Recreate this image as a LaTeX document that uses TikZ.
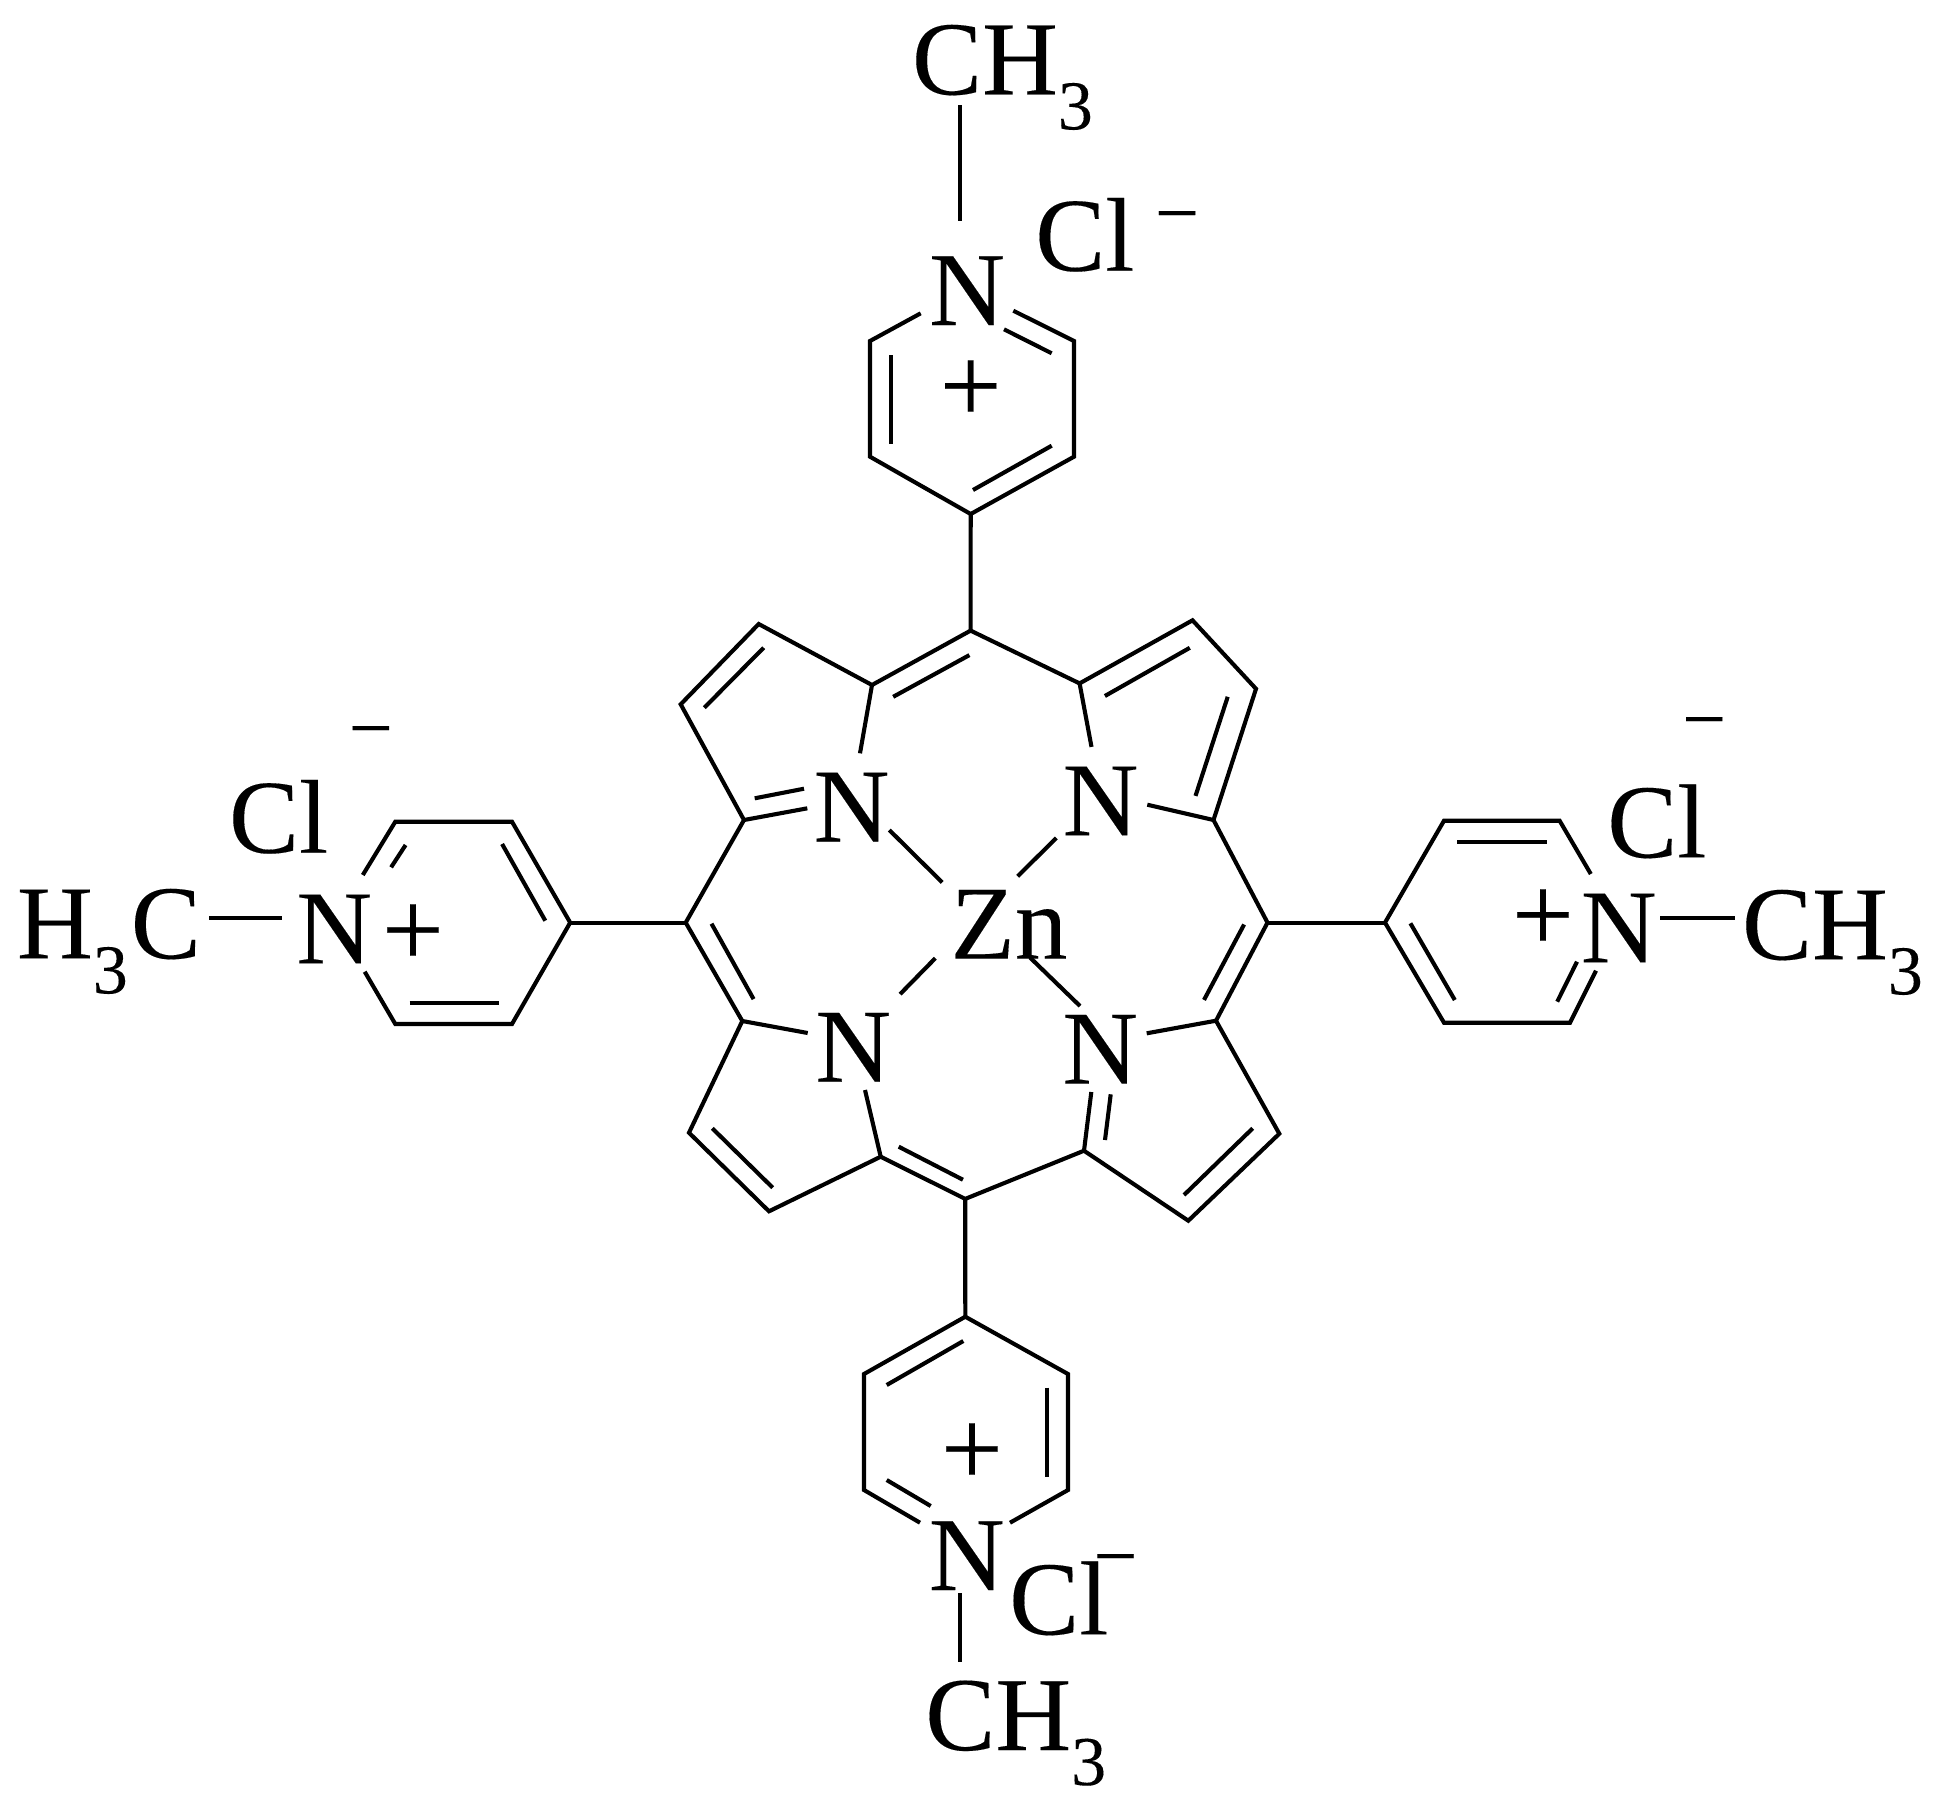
\documentclass[tikz,border=0pt]{standalone}
\usepackage{fontspec}
\setmainfont{Liberation Serif}[FakeBold=0.12]
\newcommand{\bigtype}{\fontsize{105}{105}\selectfont}
\newcommand{\plustype}{\fontsize{110}{110}\selectfont}
\newcommand{\smalltype}{\fontsize{70}{70}\selectfont}
\newcommand{\minustype}{\fontsize{78}{78}\selectfont}
\newcommand{\subthree}{\raisebox{-35pt}{\smalltype 3}}
\tikzset{
  bond/.style={line width=4.1pt,line join=miter,line cap=butt},
  inner bond/.style={line width=4.1pt,line cap=butt},
  atom/.style={inner sep=0pt,outer sep=0pt,font=\bigtype,anchor=base},
  group/.style={inner sep=0pt,outer sep=0pt,font=\bigtype,anchor=base west},
  charge/.style={inner sep=0pt,outer sep=0pt,font=\plustype,anchor=base},
  anion/.style={inner sep=0pt,outer sep=0pt,font=\minustype,anchor=base}
}
\begin{document}
\begin{tikzpicture}[x=1pt,y=-1pt]
\path[fill=white,use as bounding box] (0,0) rectangle (1944,1808);
% ---- skeleton atoms and bond ends
\foreach \n/\x/\y in {
 mt/970.6/630.6, tla/872/685, tlb/758.7/624, tlc/680.7/704.3, lua/744/820,
 ml/685.7/922.6, lla/742.3/1021, llb/689/1132.7, llc/769/1211.3, bla/880.7/1156.7,
 mb/965.2/1198.9, bra/1084/1150.7, brb/1188.3/1220.7, brc/1279.3/1133.7, lra/1216/1020.7,
 mr/1267.5/922.6, ura/1213.5/820, urb/1256/688.8, urc/1192.5/620.3, tra/1079.6/683.4,
 %
 tU/970.7/514, tUL/870/456.7, tUR/1074/456.7, tLL/870/341, tLR/1074/341,
 tNl/920.7/313.3, tNr/1013.3/310.7, ti1a/891/355, ti1b/891/444,
 ti2a/1051.7/445.7, ti2b/973/490, ti3a/1004/329.3, ti3b/1051.7/353.3,
 tMa/960/105, tMb/960/221,
 %
 bU/965.3/1316.7, bUL/864/1374, bUR/1068/1374, bLL/864/1490, bLR/1068/1490,
 bNl/920/1522.7, bNr/1010/1522.7, bi1a/963.3/1341, bi1b/886.7/1385,
 bi2a/1047/1387.7, bi2b/1047/1476.7, bi3a/886.7/1480, bi3b/930.7/1506,
 bMa/960/1593.3, bMb/960/1661.7,
 %
 lU/570.2/922.6, lUR/512/821.7, lUL/395.3/821.7, lLR/512/1024, lLL/395.3/1024,
 lNu/362.8/875, lNd/364.7/971.7, li1a/405.6/845, li1b/391.1/867.3,
 li2a/502.1/844, li2b/545.3/920.7, li3a/409.5/1003.3, li3b/498.6/1003.3,
 lMa/209/917.7, lMb/282/917.7,
 %
 rU/1385/922.6, rUL/1444/820.7, rUR/1559.6/820.7, rLL/1444/1022.7, rLR/1570/1022.7,
 rNu/1590.8/874, rNd/1596/970.7, ri1a/1577/961.7, ri1b/1557.2/1001.7,
 ri2a/1457.3/841.7, ri2b/1546.8/841.7, ri3a/1410.4/923.3, ri3b/1454.8/1000,
 rMa/1660.2/917.7, rMb/1735.2/917.7,
 %
 pi1a/763.7/647.7, pi1b/704.3/707.7, pi2a/893.2/696.8, pi2b/969.4/655.1,
 pi3a/1104.9/696, pi3b/1189.8/647.8, pi4a/1227.7/696.8, pi4b/1195.5/795.9,
 pi5a/1244.1/924.5, pi5b/1204/999.9, pi6a/711.5/923.7, pi6b/753.6/999.1,
 pi7a/712.3/1128.3, pi7b/772.7/1187.7, pi8a/898.7/1146.7, pi8b/962.9/1179.7,
 pi9a/1252.7/1128.3, pi9b/1184/1195, pi10a/1110.7/1094.3, pi10b/1105/1140,
 %
 na1/860/753.3, na2/807.3/808.3, na3a/754.7/798.3, na3b/804/788.7,
 nb1/1091.5/746.9, nb2/1147.3/804.7,
 nc1/807.7/1033, nc2/865/1090,
 nd1/1146.7/1033.3, nd2/1091.3/1092,
 za1/889.3/830, za2/942.2/882.4, zb1/1056.3/838, zb2/1017.6/876.3,
 zc1/935.3/958.2, zc2/900.1/994.1, zd1/1029.9/957.4, zd2/1080/1006}
 { \coordinate (\n) at (\x,\y); }
% ---- porphyrin outline
\draw[bond] (na2) -- (lua) -- (tlc) -- (tlb) -- (tla) -- (mt) -- (tra) -- (urc) -- (urb) -- (ura) -- (nb2);
\draw[bond] (tla) -- (na1);
\draw[bond] (tra) -- (nb1);
\draw[bond] (lua) -- (ml) -- (lla) -- (llb) -- (llc) -- (bla) -- (mb) -- (bra) -- (brb) -- (brc) -- (lra) -- (mr) -- (ura);
\draw[bond] (nc1) -- (lla);
\draw[bond] (nc2) -- (bla);
\draw[bond] (nd1) -- (lra);
\draw[bond] (nd2) -- (bra);
\foreach \a/\b in {pi1a/pi1b,pi2a/pi2b,pi3a/pi3b,pi4a/pi4b,pi5a/pi5b,pi6a/pi6b,pi7a/pi7b,pi8a/pi8b,pi9a/pi9b,pi10a/pi10b,na3a/na3b,
  za1/za2,zb1/zb2,zc1/zc2,zd1/zd2}
 { \draw[inner bond] (\a) -- (\b); }
% ---- stems
\draw[bond] (mt) -- (tU);
\draw[bond] (mb) -- (bU);
\draw[bond] (ml) -- (lU);
\draw[bond] (mr) -- (rU);
% ---- pyridinium rings
\draw[bond] (tNl) -- (tLL) -- (tUL) -- (tU) -- (tUR) -- (tLR) -- (tNr);
\draw[bond] (bNl) -- (bLL) -- (bUL) -- (bU) -- (bUR) -- (bLR) -- (bNr);
\draw[bond] (lNu) -- (lUL) -- (lUR) -- (lU) -- (lLR) -- (lLL) -- (lNd);
\draw[bond] (rNu) -- (rUR) -- (rUL) -- (rU) -- (rLL) -- (rLR) -- (rNd);
\foreach \a/\b in {ti1a/ti1b,ti2a/ti2b,ti3a/ti3b,tMa/tMb,
  bi1a/bi1b,bi2a/bi2b,bi3a/bi3b,bMa/bMb,
  li1a/li1b,li2a/li2b,li3a/li3b,lMa/lMb,
  ri1a/ri1b,ri2a/ri2b,ri3a/ri3b,rMa/rMb}
 { \draw[inner bond] (\a) -- (\b); }
% ---- atom labels
\node[atom] (zn) at (1009,958.6) {Zn};
\node[atom] (n1) at (851.5,841.5) {N};
\node[atom] (n2) at (1100.5,835.3) {N};
\node[atom] (n3) at (853.2,1081.7) {N};
\node[atom] (n4) at (1100.2,1083.6) {N};
\node[atom] (nt) at (967,325) {N};
\node[atom] (nb) at (966.7,1590) {N};
\node[atom] (nl) at (334.2,963.3) {N};
\node[atom] (nr) at (1618.8,962.3) {N};
\node[group] (met) at (912,94.3) {CH\subthree};
\node[group] (meb) at (925.3,1750) {CH\subthree};
\node[group] (mer) at (1742,959.3) {CH\subthree};
\node[group] (mel) at (17,958.3) {H\subthree\kern3pt C};
\node[atom] (clt) at (1084.9,270.7) {Cl};
\node[atom] (clb) at (1058.8,1634.3) {Cl};
\node[atom] (cll) at (278.6,852.7) {Cl};
\node[atom] (clr) at (1656.9,857.3) {Cl};
\node[charge] (pt) at (970.7,422.5) {+};
\node[charge] (pb) at (972,1485.5) {+};
\node[charge] (pl) at (413,966.5) {+};
\node[charge] (pr) at (1543,951.5) {+};
\node[anion] (at) at (1177,239) {−};
\node[anion] (ab) at (1115.5,1582) {−};
\node[anion] (al) at (370.8,754) {−};
\node[anion] (ar) at (1704.2,745) {−};
\end{tikzpicture}
\end{document}
